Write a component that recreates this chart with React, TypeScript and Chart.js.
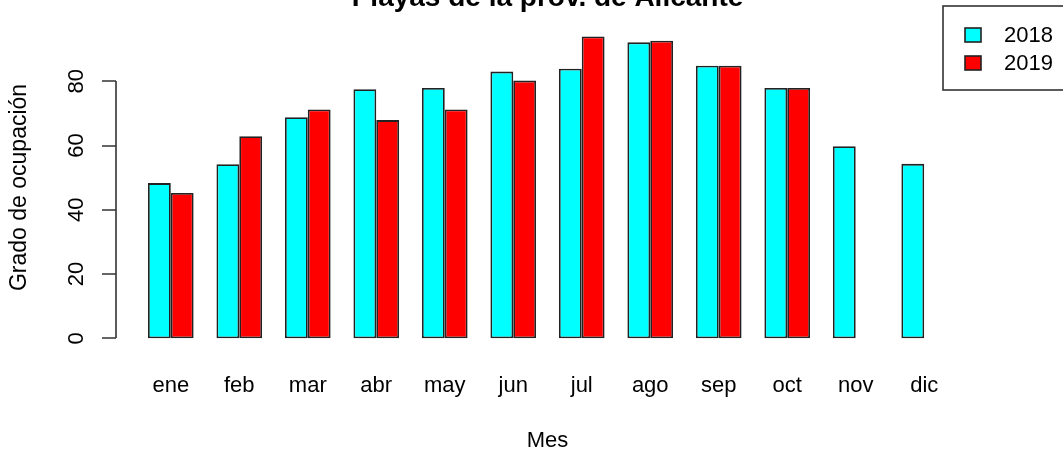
import React, { useEffect, useRef } from 'react';
import { Chart, registerables } from 'chart.js';

Chart.register(...registerables);

const months = ['ene', 'feb', 'mar', 'abr', 'may', 'jun', 'jul', 'ago', 'sep', 'oct', 'nov', 'dic'];
const values2018 = [48.3, 54.2, 68.8, 77.5, 77.9, 83.0, 83.9, 92.1, 84.8, 77.9, 59.8, 54.3];
const values2019 = [45.2, 62.9, 71.2, 67.9, 71.2, 80.2, 93.9, 92.6, 84.8, 77.9, null, null];
const seriesLabels = ['2018', '2019'];
const seriesColors = ['#00FFFF', '#FF0000'];
const yTicks = [0, 20, 40, 60, 80];
const titleText = 'Playas de la prov. de Alicante';
const xTitle = 'Mes';
const yTitle = 'Grado de ocupación';

const FONT = '"Liberation Sans", Arial, Helvetica, sans-serif';

const rStyle = {
  id: 'rStyle',
  afterDraw(chart: any) {
    const ctx = chart.ctx;
    const xs = chart.scales.x;
    const ys = chart.scales.y;
    const area = chart.chartArea;
    ctx.save();
    ctx.strokeStyle = '#333';
    ctx.fillStyle = '#000';
    ctx.lineWidth = 1.6;

    // y axis line and ticks
    const axX = Math.round(area.left);
    const yTop = Math.round(ys.getPixelForValue(yTicks[yTicks.length - 1]));
    const yBot = Math.round(ys.getPixelForValue(yTicks[0]));
    ctx.beginPath();
    ctx.moveTo(axX, yTop);
    ctx.lineTo(axX, yBot);
    yTicks.forEach((v) => {
      const py = Math.round(ys.getPixelForValue(v));
      ctx.moveTo(axX, py);
      ctx.lineTo(axX - 14, py);
    });
    ctx.stroke();

    ctx.font = `22px ${FONT}`;
    ctx.textAlign = 'center';
    ctx.textBaseline = 'alphabetic';
    yTicks.forEach((v) => {
      const py = ys.getPixelForValue(v);
      ctx.save();
      ctx.translate(83, py);
      ctx.rotate(-Math.PI / 2);
      ctx.fillText(String(v), 0, 0);
      ctx.restore();
    });

    // x category labels
    months.forEach((m, i) => {
      const px = xs.getPixelForValue(i + 1);
      ctx.fillText(m, px, 392);
    });

    // axis titles
    const cx = (area.left + area.right) / 2;
    const cy = (area.top + area.bottom) / 2;
    ctx.fillText(xTitle, cx, 447);
    ctx.save();
    ctx.font = `23px ${FONT}`;
    ctx.translate(26, cy);
    ctx.rotate(-Math.PI / 2);
    ctx.fillText(yTitle, 0, 0);
    ctx.restore();

    // title
    ctx.font = `bold 28px ${FONT}`;
    ctx.fillText(titleText, cx, 6);

    // legend
    ctx.lineWidth = 1.6;
    ctx.strokeStyle = '#333';
    ctx.strokeRect(943, 6, 200, 84);
    ctx.font = `22px ${FONT}`;
    ctx.textAlign = 'left';
    ctx.textBaseline = 'middle';
    const rows = [35, 63];
    chart.data.datasets.forEach((ds: any, i: number) => {
      const ry = rows[i];
      ctx.fillStyle = ds.backgroundColor;
      ctx.fillRect(965, ry - 7, 16, 14);
      ctx.strokeStyle = '#222';
      ctx.strokeRect(965, ry - 7, 16, 14);
      ctx.fillStyle = '#000';
      ctx.fillText(ds.label, 1004, ry + 1);
    });

    ctx.restore();
  },
};

export default function App() {
  const ref = useRef<HTMLCanvasElement | null>(null);

  useEffect(() => {
    document.body.style.margin = '0';
    const canvas = ref.current;
    if (!canvas) return;
    const all = [...values2018, ...values2019].filter((v) => v !== null) as number[];
    const maxV = Math.max(...all);
    const yMin = -0.04 * maxV;
    const yMax = maxV * 1.04;

    const seriesData = [values2018, values2019];
    const chart = new Chart(canvas, {
      type: 'bar',
      data: {
        datasets: seriesData.map((vals, s) => ({
          label: seriesLabels[s],
          data: vals.map((v, i) => ({ x: i + 1, y: v })),
          backgroundColor: seriesColors[s],
          borderColor: '#222',
          borderWidth: 1.8,
          borderSkipped: false,
          categoryPercentage: 2 / 3,
          barPercentage: 1,
        })),
      },
      options: {
        responsive: false,
        animation: false,
        devicePixelRatio: 1,
        layout: { padding: { left: 116, right: 84, top: 24.5, bottom: 104.6 } },
        plugins: { legend: { display: false }, tooltip: { enabled: false }, title: { display: false } },
        scales: {
          x: {
            type: 'linear',
            display: false,
            min: 0.2,
            max: 12.8,
            offset: false,
            ticks: { stepSize: 1, includeBounds: false },
            grid: { display: false },
          },
          y: {
            type: 'linear',
            display: false,
            min: yMin,
            max: yMax,
            grid: { display: false },
          },
        },
      },
      plugins: [rStyle],
    } as any);
    return () => chart.destroy();
  }, []);

  return <canvas ref={ref} width={1063} height={455} style={{ display: 'block', width: 1063, height: 455 }} />;
}
